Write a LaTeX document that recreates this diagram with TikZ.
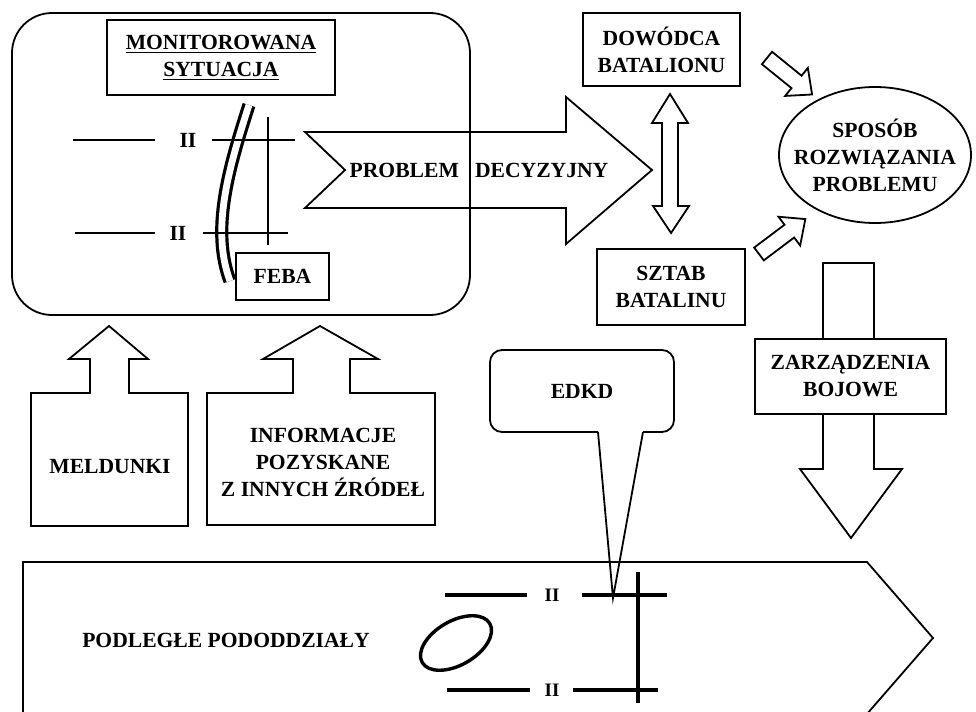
\documentclass[tikz,border=0pt]{standalone}
\usepackage{fontspec}
\setmainfont{Liberation Serif}
\usetikzlibrary{shapes.geometric}

\begin{document}
\begin{tikzpicture}[
  x=0.5pt, y=-0.5pt,
  font=\bfseries\fontsize{10.8}{13.5}\selectfont,
  box/.style={draw,line width=0.9pt,fill=white,align=center,inner sep=0pt},
  outline/.style={draw,line width=0.9pt,line join=miter},
  front/.style={line width=0.7pt},
  unitline/.style={line width=1.8pt},
  smalltext/.style={font=\bfseries\fontsize{9.5}{11}\selectfont},
]
\useasboundingbox (0,0) rectangle (976,712);
\clip (0,0) rectangle (976,712);

% monitored situation
\draw[outline,rounded corners=20pt] (12,13) rectangle (470,315);
\node[box,minimum width=114pt,minimum height=37.5pt] (monit) at (221,57.5) {\underline{MONITOROWANA}\\\underline{SYTUACJA}};
\draw[line width=1.6pt,double,double distance=3.4pt] (249,105) .. controls (228,170) and (211,230) .. (230,281);
\draw[front] (73,140) -- (155,140);
\node (iitop) at (188,140) {II};
\draw[front] (212,140) -- (295,140);
\draw[front] (75,233) -- (155,233);
\node (iibot) at (178,233) {II};
\draw[front] (203,233) -- (288,233);
\draw[front] (268,117) -- (268,245);
\node[box,minimum width=46.5pt,minimum height=23.5pt] (feba) at (282.5,276.5) {FEBA};

% decision problem
\draw[outline] (305,132) -- (566,132) -- (566,97) -- (652,170) -- (566,244) -- (566,208) -- (305,208) -- (345,170) -- cycle;
\node (problem) at (479,170) {PROBLEM\hspace{0.5em} DECYZYJNY};

% command
\node[box,minimum width=78.5pt,minimum height=36.5pt] (dowodca) at (661.5,49.5) {DOWÓDCA\\BATALIONU};
\node[box,minimum width=74pt,minimum height=38pt] (sztab) at (671,287) {SZTAB\\BATALINU};
\draw[outline] (670,94) -- (688,123) -- (678,123) -- (678,206) -- (689,206) -- (671,233) -- (653,206) -- (662,206) -- (662,123) -- (652,123) -- cycle;

\draw[outline] (875,155) ellipse [x radius=48pt,y radius=34pt];
\node[align=center] (sposob) at (875,155) {SPOSÓB\\ROZWIĄZANIA\\PROBLEMU};
\begin{scope}[shift={(767,58)},rotate=-39]
  \draw[outline] (0,-8) -- (38,-8) -- (38,-18) -- (58,0) -- (38,18) -- (38,8) -- (0,8) -- cycle;
\end{scope}
\begin{scope}[shift={(759,254)},rotate=37]
  \draw[outline] (0,-8) -- (38,-8) -- (38,-18) -- (58,0) -- (38,18) -- (38,8) -- (0,8) -- cycle;
\end{scope}

% orders
\draw[outline] (823,263) -- (874,263) -- (874,469) -- (902,469) -- (851,538) -- (800,469) -- (823,469) -- cycle;
\node[box,minimum width=95.5pt,minimum height=37.5pt] (zarz) at (850.5,376.5) {ZARZĄDZENIA\\BOJOWE};

% reports
\draw[outline] (31,526) -- (31,393) -- (90,393) -- (90,359) -- (69,359) -- (109,326) -- (148,359) -- (129,359) -- (129,393) -- (188,393) -- (188,526) -- cycle;
\node (meldunki) at (110,467) {MELDUNKI};
\draw[outline] (207,525) -- (207,393) -- (293,393) -- (293,359) -- (263,359) -- (320,326) -- (378,359) -- (350,359) -- (350,393) -- (435,393) -- (435,525) -- cycle;
\node[align=center] (info) at (323,462) {INFORMACJE\\POZYSKANE\\Z INNYCH ŹRÓDEŁ};

% EDKD
\draw[outline,rounded corners=6pt] (643,432) -- (674,432) -- (674,350) -- (490,350) -- (490,432) -- (598,432);
\draw[outline] (598,432) -- (613,598) -- (643,432);
\node (edkd) at (582,391) {EDKD};

% subordinate units
\draw[outline] (23,722) -- (23,562) -- (867,562) -- (933,638) -- (860,722);
\node (podlegle) at (226,640) {PODLEGŁE PODODDZIAŁY};
\draw[line width=1.7pt,rotate around={30:(456,643)}] (456,643) ellipse [x radius=19.5pt,y radius=11pt];
\draw[unitline] (445,595) -- (527,595);
\node[smalltext] (iiup) at (552,595) {II};
\draw[unitline] (582,595) -- (667,595);
\draw[unitline] (447,690) -- (530,690);
\node[smalltext] (iidown) at (552,690) {II};
\draw[unitline] (573,690) -- (658,690);
\draw[unitline] (638,572) -- (638,703);
\end{tikzpicture}
\end{document}
